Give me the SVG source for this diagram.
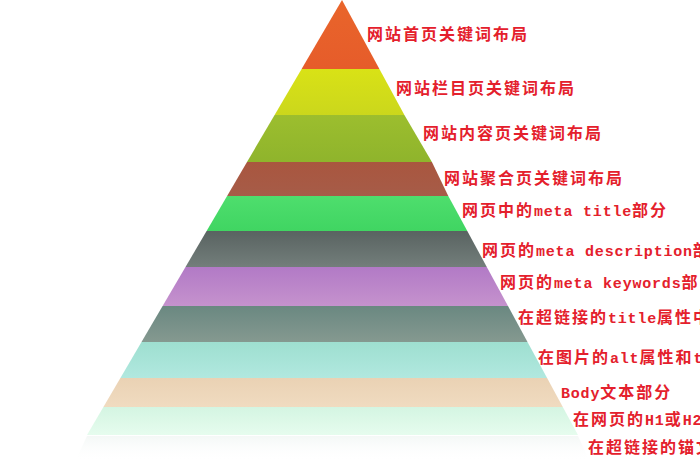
<svg xmlns="http://www.w3.org/2000/svg" width="700" height="470" viewBox="0 0 700 470">
<defs>
<style>
.lbl{font-family:"Noto Sans CJK SC","Noto Sans",sans-serif;font-size:16px;font-weight:bold;fill:#e4202c;letter-spacing:2px;}
.m{font-family:"Liberation Mono","DejaVu Sans Mono",monospace;font-size:15px;letter-spacing:0.8px;}
</style>
<linearGradient id="g1" x1="0" y1="0" x2="0" y2="1"><stop offset="0" stop-color="#e9652b"/><stop offset="1" stop-color="#e65c2a"/></linearGradient>
<linearGradient id="g2" x1="0" y1="0" x2="0" y2="1"><stop offset="0" stop-color="#d9e216"/><stop offset="1" stop-color="#cbd71c"/></linearGradient>
<linearGradient id="g3" x1="0" y1="0" x2="0" y2="1"><stop offset="0" stop-color="#9cbe2e"/><stop offset="1" stop-color="#8fb42c"/></linearGradient>
<linearGradient id="g4" x1="0" y1="0" x2="0" y2="1"><stop offset="0" stop-color="#a9563f"/><stop offset="1" stop-color="#a65c48"/></linearGradient>
<linearGradient id="g5" x1="0" y1="0" x2="0" y2="1"><stop offset="0" stop-color="#4ede6d"/><stop offset="1" stop-color="#40d562"/></linearGradient>
<linearGradient id="g6" x1="0" y1="0" x2="0" y2="1"><stop offset="0" stop-color="#596361"/><stop offset="1" stop-color="#737e7b"/></linearGradient>
<linearGradient id="g7" x1="0" y1="0" x2="0" y2="1"><stop offset="0" stop-color="#b27ac6"/><stop offset="1" stop-color="#c592cd"/></linearGradient>
<linearGradient id="g8" x1="0" y1="0" x2="0" y2="1"><stop offset="0" stop-color="#6a8881"/><stop offset="1" stop-color="#859990"/></linearGradient>
<linearGradient id="g9" x1="0" y1="0" x2="0" y2="1"><stop offset="0" stop-color="#9edfd0"/><stop offset="1" stop-color="#b1e8df"/></linearGradient>
<linearGradient id="g10" x1="0" y1="0" x2="0" y2="1"><stop offset="0" stop-color="#ead2b4"/><stop offset="1" stop-color="#f0dbc0"/></linearGradient>
<linearGradient id="g11" x1="0" y1="0" x2="0" y2="1"><stop offset="0" stop-color="#d4f5e2"/><stop offset="1" stop-color="#e6fcee"/></linearGradient>
<linearGradient id="gr" x1="0" y1="0" x2="0" y2="1"><stop offset="0" stop-color="#f1f6f4" stop-opacity="0.8"/><stop offset="1" stop-color="#ffffff" stop-opacity="0"/></linearGradient>
</defs>
<rect width="700" height="470" fill="#ffffff"/>
<polygon points="87,436 578,436 590,462 75,462" fill="url(#gr)"/>

<g id="layer1">
<polygon points="342,0 379.4,69 301.6,69" fill="url(#g1)"/>
<text class="lbl" x="367" y="40">网站首页关键词布局</text>
</g>
<g id="layer2">
<polygon points="301.6,69 379.4,69 404.4,115 274.6,115" fill="url(#g2)"/>
<text class="lbl" x="396" y="94">网站栏目页关键词布局</text>
</g>
<g id="layer3">
<polygon points="274.6,115 404.4,115 431.9,162 247,162" fill="url(#g3)"/>
<text class="lbl" x="423" y="139">网站内容页关键词布局</text>
</g>
<g id="layer4">
<polygon points="247,162 431.9,162 448.3,196 227.1,196" fill="url(#g4)"/>
<text class="lbl" x="444" y="184">网站聚合页关键词布局</text>
</g>
<g id="layer5">
<polygon points="227.1,196 448.3,196 467.3,231 206.6,231" fill="url(#g5)"/>
<text class="lbl" x="462" y="216">网页中的<tspan class="m">meta title</tspan>部分</text>
</g>
<g id="layer6">
<polygon points="206.6,231 467.3,231 486.8,267 185.5,267" fill="url(#g6)"/>
<text class="lbl" x="482" y="256">网页的<tspan class="m">meta description</tspan>部</text>
</g>
<g id="layer7">
<polygon points="185.5,267 486.8,267 508,306 162.6,306" fill="url(#g7)"/>
<text class="lbl" x="500" y="288">网页的<tspan class="m">meta keywords</tspan>部</text>
</g>
<g id="layer8">
<polygon points="162.6,306 508,306 527.5,342 141.5,342" fill="url(#g8)"/>
<text class="lbl" x="518" y="323">在超链接的<tspan class="m">title</tspan>属性中</text>
</g>
<g id="layer9">
<polygon points="141.5,342 527.5,342 547.1,378 120.4,378" fill="url(#g9)"/>
<text class="lbl" x="538" y="363">在图片的<tspan class="m">alt</tspan>属性和<tspan class="m">t</tspan></text>
</g>
<g id="layer10">
<polygon points="120.4,378 547.1,378 562.8,407 103.4,407" fill="url(#g10)"/>
<text class="lbl" x="561" y="398"><tspan class="m">Body</tspan>文本部分</text>
</g>
<g id="layer11">
<polygon points="103.4,407 562.8,407 578,435 87,435" fill="url(#g11)"/>
<text class="lbl" x="573" y="425">在网页的<tspan class="m">H1</tspan>或<tspan class="m">H2</tspan></text>
</g>
<g id="label12">
<text class="lbl" x="588" y="453">在超链接的锚文</text>
</g>
<g id="connectors"/>
</svg>
